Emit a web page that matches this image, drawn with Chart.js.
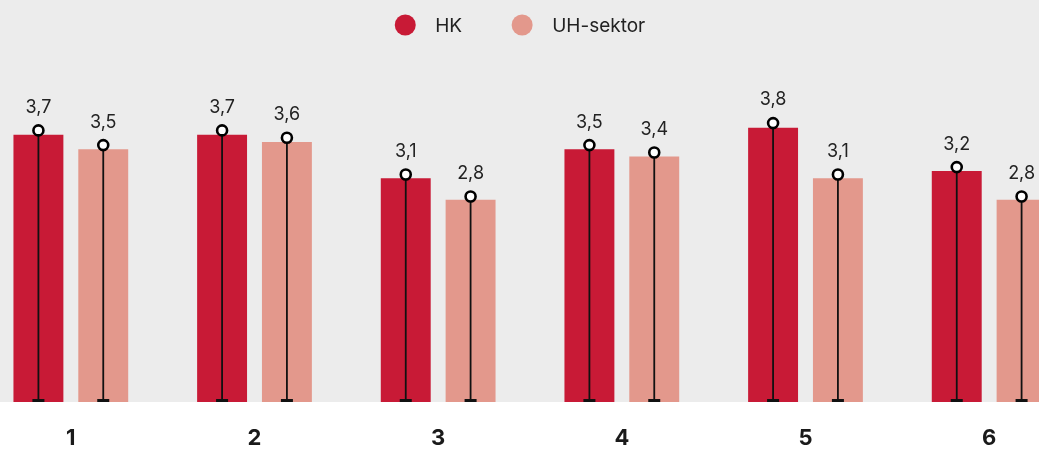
<!DOCTYPE html>
<html><head><meta charset="utf-8">
<script src="https://cdn.jsdelivr.net/npm/chart.js@4/dist/chart.umd.min.js"></script>
<style>
html,body{margin:0;padding:0;background:#fff;overflow:hidden;width:1039px;height:450px;}
#wrap{position:absolute;left:-21px;top:0;width:1102px;height:450px;}
</style></head><body>
<div id="wrap"><canvas id="c" width="1102" height="450"></canvas></div>
<script>
const categories = ['1', '2', '3', '4', '5', '6'];
const seriesNames = ['HK', 'UH-sektor'];
const hkValues = [3.7, 3.7, 3.1, 3.5, 3.8, 3.2];
const uhValues = [3.5, 3.6, 2.8, 3.4, 3.1, 2.8];
const seriesColors = ['#c81a36', '#e3988c'];

const FONT = 'Inter, "Noto Sans", sans-serif';

const bgPlugin = {
  id: 'bg',
  beforeDraw(chart) {
    const {ctx, chartArea, width, height} = chart;
    ctx.save();
    ctx.fillStyle = '#ffffff';
    ctx.fillRect(0, 0, width, height);
    ctx.fillStyle = '#ececec';
    ctx.fillRect(0, 0, width, chartArea.bottom);
    ctx.restore();
  }
};

const whiskerPlugin = {
  id: 'whisker',
  afterDatasetsDraw(chart) {
    const {ctx} = chart;
    const ys = chart.scales.y;
    const base = ys.getPixelForValue(0);
    ctx.save();
    chart.data.datasets.forEach((ds, di) => {
      const meta = chart.getDatasetMeta(di);
      meta.data.forEach((bar, i) => {
        const v = ds.data[i];
        const x = bar.x;
        const y = ys.getPixelForValue(v);
        ctx.strokeStyle = '#111';
        ctx.lineWidth = 1.8;
        ctx.beginPath();
        ctx.moveTo(x, y);
        ctx.lineTo(x, base);
        ctx.stroke();
        ctx.fillStyle = '#111';
        ctx.fillRect(x - 6, base - 3, 12, 3);
        ctx.beginPath();
        ctx.arc(x, y, 5, 0, Math.PI * 2);
        ctx.fillStyle = '#fff';
        ctx.fill();
        ctx.lineWidth = 2.6;
        ctx.strokeStyle = '#000';
        ctx.stroke();
        ctx.fillStyle = '#222';
        ctx.font = '18px ' + FONT;
        ctx.textAlign = 'center';
        ctx.textBaseline = 'middle';
        ctx.fillText(v.toFixed(1).replace('.', ','), x, y - 23);
      });
    });
    ctx.restore();
  }
};

const legendPlugin = {
  id: 'customLegend',
  afterDraw(chart) {
    const {ctx} = chart;
    ctx.save();
    ctx.font = '19px ' + FONT;
    const r = 10.5, dotToText = 30, itemGap = 60;
    const widths = seriesNames.map(n => ctx.measureText(n).width);
    let total = 0;
    widths.forEach((w, i) => { total += r + dotToText + w + (i < widths.length - 1 ? itemGap - r : 0); });
    let x = 541 - total / 2;
    const cy = 25;
    seriesNames.forEach((n, i) => {
      const cx = x + r;
      ctx.beginPath();
      ctx.arc(cx, cy, r, 0, Math.PI * 2);
      ctx.fillStyle = seriesColors[i];
      ctx.fill();
      ctx.fillStyle = '#222';
      ctx.textAlign = 'left';
      ctx.textBaseline = 'middle';
      ctx.fillText(n, cx + dotToText, cy + 1);
      x = cx + dotToText + widths[i] + itemGap - r;
    });
    ctx.restore();
  }
};

new Chart(document.getElementById('c'), {
  type: 'bar',
  data: {
    labels: categories,
    datasets: [
      {label: seriesNames[0], data: hkValues, backgroundColor: seriesColors[0], yAxisID: 'yb',
       categoryPercentage: 0.706, barPercentage: 0.77, borderWidth: 0},
      {label: seriesNames[1], data: uhValues, backgroundColor: seriesColors[1], yAxisID: 'yb',
       categoryPercentage: 0.706, barPercentage: 0.77, borderWidth: 0}
    ]
  },
  options: {
    responsive: false,
    animation: false,
    devicePixelRatio: 1,
    layout: {padding: {top: 35, left: 0, right: 0, bottom: 0}},
    plugins: {legend: {display: false}, tooltip: {enabled: false}},
    scales: {
      x: {
        grid: {display: false, drawTicks: false},
        border: {display: false},
        ticks: {font: {family: FONT, size: 22, weight: 'bold'}, color: '#1a1a1a', padding: 23},
        afterFit(s) { s.height = 48; }
      },
      y: {display: false, min: 0, max: 5},
      yb: {display: false, min: 0, max: 5.083}
    }
  },
  plugins: [bgPlugin, whiskerPlugin, legendPlugin]
});
</script>
</body></html>
